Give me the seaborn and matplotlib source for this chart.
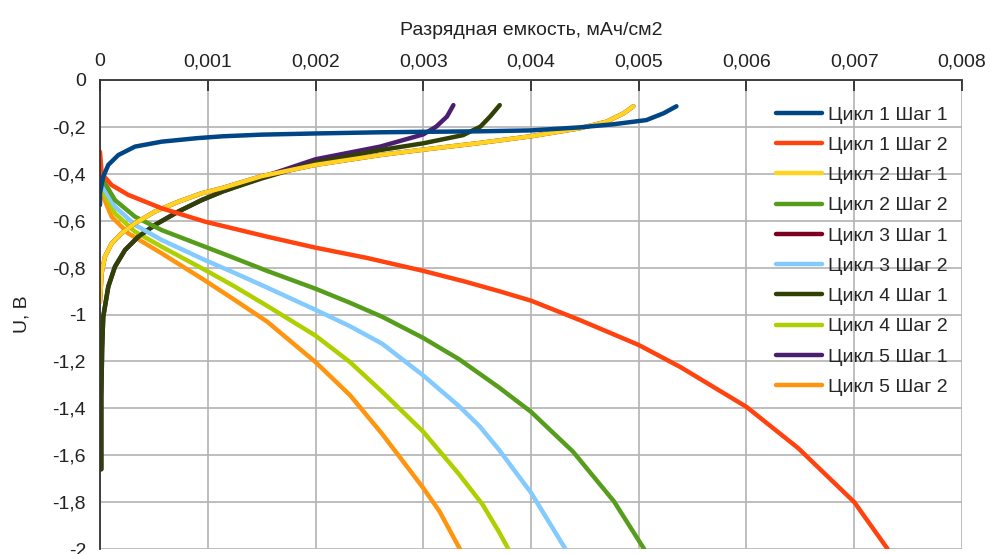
import numpy as np
import pandas as pd
import matplotlib
matplotlib.use("Agg")
import matplotlib.pyplot as plt
import seaborn as sns

# ---------------- data ----------------
series_names = ["Цикл 1 Шаг 1", "Цикл 1 Шаг 2", "Цикл 2 Шаг 1", "Цикл 2 Шаг 2",
                "Цикл 3 Шаг 1", "Цикл 3 Шаг 2", "Цикл 4 Шаг 1", "Цикл 4 Шаг 2",
                "Цикл 5 Шаг 1", "Цикл 5 Шаг 2"]
series_colors = ["#004586", "#ff420e", "#ffd320", "#579d1c", "#7e0021",
                 "#83caff", "#314004", "#aecf00", "#4b1f6f", "#ff950e"]

c1s1_x = [0.0, 0.0, 0.00003, 0.000077, 0.00017, 0.000325, 0.000572, 0.0009, 0.00114, 0.0015,
          0.0020, 0.0026, 0.0030, 0.0035, 0.0040, 0.00445, 0.00476, 0.00507, 0.00523, 0.00535]
c1s1_y = [-0.533, -0.483, -0.412, -0.362, -0.32, -0.284, -0.263, -0.248, -0.240, -0.233,
          -0.228, -0.223, -0.221, -0.219, -0.215, -0.202, -0.189, -0.171, -0.142, -0.112]

c1s2_x = [0.0, 0.000015, 0.000108, 0.000263, 0.000572, 0.000974, 0.00155, 0.0020, 0.00247, 0.0030,
          0.00339, 0.0037, 0.0040, 0.00446, 0.0050, 0.00539, 0.0060, 0.00648, 0.0070, 0.00731]
c1s2_y = [-0.306, -0.398, -0.448, -0.49, -0.547, -0.604, -0.668, -0.715, -0.758, -0.814,
          -0.86, -0.90, -0.941, -1.025, -1.13, -1.225, -1.394, -1.57, -1.80, -2.0]

c2s1_x = [0.0, 0.000015, 0.000046, 0.000108, 0.0002, 0.000325, 0.00051, 0.000727, 0.000944, 0.00114,
          0.0015, 0.0020, 0.0026, 0.0030, 0.0035, 0.0040, 0.00445, 0.0047, 0.00486, 0.00495]
c2s1_y = [-0.945, -0.824, -0.753, -0.697, -0.654, -0.611, -0.561, -0.519, -0.483, -0.46,
          -0.41, -0.362, -0.32, -0.297, -0.27, -0.24, -0.206, -0.178, -0.142, -0.112]

c2s2_x = [0.0, 0.000046, 0.000139, 0.000325, 0.000572, 0.000974, 0.00124, 0.00155, 0.0020, 0.00232,
          0.00262, 0.0030, 0.00333, 0.0037, 0.0040, 0.00439, 0.00477, 0.00505]
c2s2_y = [-0.40, -0.44, -0.512, -0.583, -0.64, -0.711, -0.758, -0.814, -0.89, -0.95,
          -1.01, -1.10, -1.19, -1.31, -1.415, -1.585, -1.797, -2.0]

# hidden in the reference (lies under Цикл 2 Шаг 1)
c3s1_x = [0.0, 0.000015, 0.000046, 0.000108, 0.0002, 0.000325, 0.00051, 0.000727, 0.000944, 0.00114,
          0.0015, 0.0020, 0.0026, 0.0030, 0.0035, 0.0040, 0.00445, 0.0047, 0.00486, 0.00495]
c3s1_y = [-0.945, -0.824, -0.753, -0.697, -0.654, -0.611, -0.561, -0.519, -0.483, -0.46,
          -0.41, -0.362, -0.32, -0.297, -0.27, -0.24, -0.206, -0.178, -0.142, -0.112]

c3s2_x = [0.0, 0.000046, 0.000139, 0.000325, 0.000572, 0.000974, 0.00124, 0.00155, 0.0020, 0.00232,
          0.00262, 0.0030, 0.00333, 0.00352, 0.0037, 0.0040, 0.00432]
c3s2_y = [-0.40, -0.469, -0.54, -0.618, -0.682, -0.768, -0.821, -0.885, -0.98, -1.05,
          -1.125, -1.26, -1.39, -1.475, -1.575, -1.76, -2.0]

c4s1_x = [0.000012, 0.000012, 0.00002, 0.00003, 0.000077, 0.000139, 0.000232, 0.000356, 0.00051, 0.000727,
          0.000944, 0.00114, 0.0015, 0.0020, 0.0026, 0.0030, 0.00337, 0.00353, 0.00362, 0.00371]
c4s1_y = [-1.66, -1.35, -1.14, -1.01, -0.881, -0.796, -0.725, -0.668, -0.618, -0.561,
          -0.512, -0.475, -0.42, -0.352, -0.299, -0.27, -0.235, -0.199, -0.156, -0.107]

c4s2_x = [0.0, 0.000046, 0.000139, 0.000325, 0.000572, 0.000974, 0.00124, 0.00155, 0.0020, 0.00232,
          0.00262, 0.0030, 0.00333, 0.00355, 0.0037, 0.00379]
c4s2_y = [-0.40, -0.49, -0.569, -0.647, -0.711, -0.81, -0.878, -0.963, -1.09, -1.203,
          -1.33, -1.50, -1.68, -1.81, -1.925, -2.0]

c5s1_x = [0.000012, 0.000012, 0.00002, 0.00003, 0.000077, 0.000139, 0.000232, 0.000356, 0.00051, 0.000727,
          0.000944, 0.00114, 0.0015, 0.0020, 0.0026, 0.0030, 0.00312, 0.00322, 0.00328]
c5s1_y = [-1.66, -1.35, -1.14, -1.01, -0.881, -0.796, -0.725, -0.668, -0.618, -0.561,
          -0.512, -0.475, -0.415, -0.338, -0.284, -0.232, -0.199, -0.156, -0.107]

c5s2_x = [0.0, 0.00003, 0.000108, 0.000263, 0.000572, 0.000974, 0.00124, 0.00155, 0.0020, 0.00232,
          0.00262, 0.0030, 0.00315, 0.00334]
c5s2_y = [-0.40, -0.498, -0.583, -0.654, -0.739, -0.855, -0.935, -1.03, -1.203, -1.344,
          -1.51, -1.74, -1.839, -2.0]

x_ticks = [0, 0.001, 0.002, 0.003, 0.004, 0.005, 0.006, 0.007, 0.008]
x_tick_labels = ["0", "0,001", "0,002", "0,003", "0,004", "0,005", "0,006", "0,007", "0,008"]
y_ticks = [0, -0.2, -0.4, -0.6, -0.8, -1.0, -1.2, -1.4, -1.6, -1.8, -2.0]
y_tick_labels = ["0", "-0,2", "-0,4", "-0,6", "-0,8", "-1", "-1,2", "-1,4", "-1,6", "-1,8", "-2"]

x_title = "Разрядная емкость, мАч/см2"
y_title = "U, В"

all_x = [c1s1_x, c1s2_x, c2s1_x, c2s2_x, c3s1_x, c3s2_x, c4s1_x, c4s2_x, c5s1_x, c5s2_x]
all_y = [c1s1_y, c1s2_y, c2s1_y, c2s2_y, c3s1_y, c3s2_y, c4s1_y, c4s2_y, c5s1_y, c5s2_y]

frames = []
for name, xs, ys in zip(series_names, all_x, all_y):
    frames.append(pd.DataFrame({"x": xs, "y": ys, "series": name}))
df = pd.concat(frames, ignore_index=True)

# ---------------- plot ----------------
sns.set_style("white")
plt.rcParams["font.family"] = ["Liberation Sans", "DejaVu Sans"]
FS = 14
LW = 3.2

fig = plt.figure(figsize=(9.9, 5.54), dpi=100)
ax = fig.add_axes([100 / 990, 1 - 549 / 554, 862 / 990, 469 / 554])

palette = dict(zip(series_names, series_colors))
sns.lineplot(data=df, x="x", y="y", hue="series", hue_order=series_names,
             palette=palette, sort=False, estimator=None, units="series",
             linewidth=LW, ax=ax, legend=True)

# first series drawn on top (as in the reference)
n = len(series_names)
for i, line in enumerate(ax.lines[:n]):
    line.set_zorder(3 + (n - i) * 0.01)
    line.set_solid_capstyle("round")
    line.set_solid_joinstyle("round")

ax.set_xlim(0, 0.008)
ax.set_ylim(-2.0, 0.0)
ax.set_xticks(x_ticks)
ax.set_xticklabels(x_tick_labels)
ax.set_yticks(y_ticks)
ax.set_yticklabels(y_tick_labels)

ax.xaxis.set_ticks_position("top")
ax.xaxis.set_label_position("top")
ax.tick_params(axis="x", direction="in", length=8, width=1.2, pad=7,
               labelsize=FS, colors="#222222")
ax.tick_params(axis="y", direction="out", length=7, width=1.2, pad=3,
               labelsize=FS, colors="#222222")

ax.grid(True, color="#b3b3b3", linewidth=1.2)
ax.set_axisbelow(True)
for s in ["right", "bottom"]:
    ax.spines[s].set_visible(False)
for s in ["left", "top"]:
    ax.spines[s].set_color("#333333")
    ax.spines[s].set_linewidth(1.3)
    ax.spines[s].set_zorder(4)

ax.set_xlabel(x_title, fontsize=FS, labelpad=13, color="#222222")
ax.set_ylabel(y_title, fontsize=FS, labelpad=16, color="#222222")

handles, labels = ax.get_legend_handles_labels()
for h in handles:
    h.set_linewidth(LW)
leg = ax.legend(handles, labels, loc="upper left",
                bbox_to_anchor=(776 / 990, 1 - 106 / 554), bbox_transform=fig.transFigure,
                frameon=False, fontsize=FS, handlelength=2.35, handletextpad=0.3,
                labelspacing=0.65, borderpad=0, borderaxespad=0)
leg.set_zorder(10)

fig.savefig("out.png", dpi=100)
